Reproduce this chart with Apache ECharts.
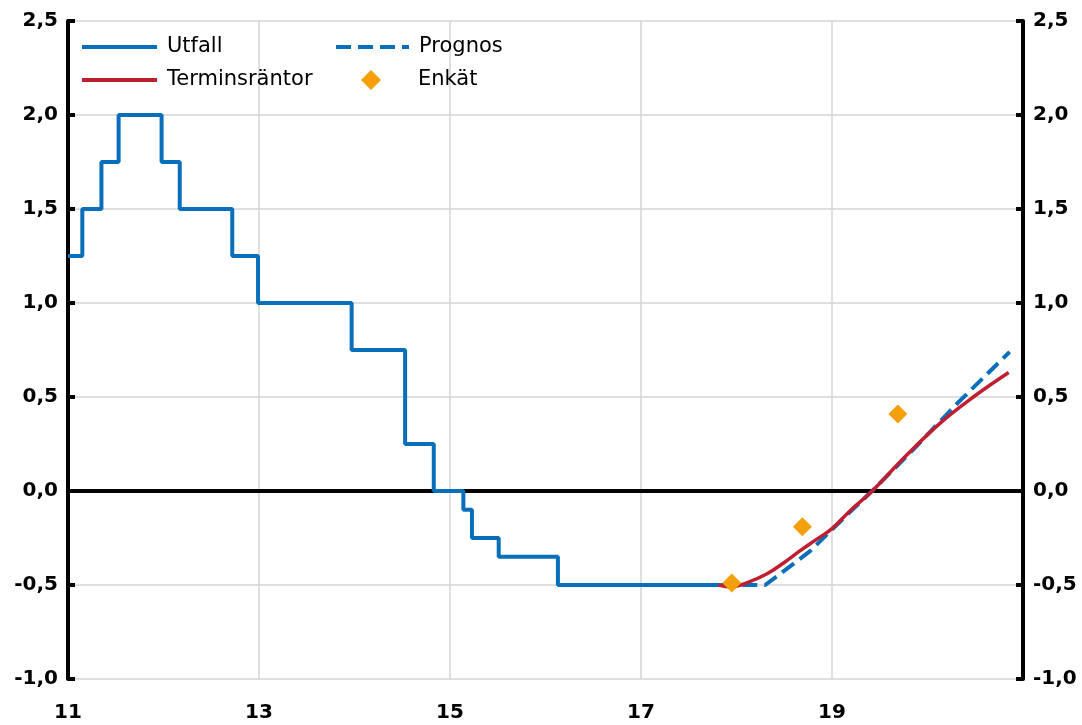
<!DOCTYPE html>
<html>
<head>
<meta charset="utf-8">
<script src="https://cdn.jsdelivr.net/npm/echarts@6/dist/echarts.min.js"></script>
<style>html,body{margin:0;padding:0;background:#fff}#c{width:1082px;height:725px}</style>
</head>
<body>
<div id="c"></div>
<script>
// Utfall (step changes: x = year since 2000, value)
var utfallX = [11.0, 11.15, 11.35, 11.53, 11.98, 12.17, 12.72, 12.99, 13.97, 14.53, 14.83, 15.14, 15.23, 15.51, 16.13, 17.83];
var utfallY = [1.25, 1.50, 1.75, 2.00, 1.75, 1.50, 1.25, 1.00, 0.75, 0.25, 0.00, -0.10, -0.25, -0.35, -0.50, -0.50];
// Prognos
var prognosX = [17.83, 18.30, 18.46, 18.77, 19.15, 19.42, 19.85, 20.30, 20.86];
var prognosY = [-0.50, -0.50, -0.44, -0.32, -0.13, 0.00, 0.22, 0.46, 0.74];
// Terminsräntor
var terminX = [17.81, 17.95, 18.10, 18.32, 18.50, 18.66, 18.83, 19.00, 19.19, 19.42, 19.78, 20.13, 20.48, 20.85];
var terminY = [-0.50, -0.51, -0.49, -0.44, -0.38, -0.32, -0.26, -0.20, -0.105, 0.00, 0.19, 0.36, 0.50, 0.63];
// Enkät
var enkatX = [17.95, 18.69, 19.69];
var enkatY = [-0.49, -0.19, 0.41];
// Axis settings
var xMin = 11, xMax = 21, xStep = 2;
var yMin = -1.0, yMax = 2.5, yStep = 0.5;

function zip(a, b) { return a.map(function (v, i) { return [v, b[i]]; }); }

var BLUE = '#0a6fbb', RED = '#bf1f30', ORANGE = '#f59f0c';
var fmt = function (v) { return v.toFixed(1).replace('.', ','); };

var yAxisBase = function (pos) {
  return {
    type: 'value', position: pos, min: yMin, max: yMax, interval: yStep,
    axisLine: { show: true, lineStyle: { color: '#000', width: 4 } },
    axisTick: { show: true, inside: true, length: 7, lineStyle: { color: '#000', width: 4 } },
    axisLabel: { formatter: fmt, color: '#000', fontFamily: 'DejaVu Sans', fontWeight: 'bold', fontSize: 20, margin: 10 },
    splitLine: { show: pos === 'left', lineStyle: { color: '#d4d4d4', width: 1.5 } }
  };
};

var legendText = { color: '#000', fontFamily: 'DejaVu Sans', fontSize: 21, lineHeight: 24, padding: [0, 0, 0, 5] };
var solidIcon = 'path://M0,0h75v4h-75z';
var dashIcon = 'path://M0,0h15v4h-15z M22,0h15v4h-15z M44,0h15v4h-15z M66,0h7v4h-7z';
var diamondIcon = 'path://M10,0L20,10L10,20L0,10Z';
function lg(name, left, top, icon, w, h, pad) {
  var ts = Object.assign({}, legendText, { padding: [0, 0, 0, pad] });
  return { data: [{ name: name, icon: icon }], left: left, top: top, itemWidth: w, itemHeight: h,
    symbolKeepAspect: false, selectedMode: false, textStyle: ts };
}

var chart = echarts.init(document.getElementById('c'), null, { renderer: 'canvas' });
chart.setOption({
  animation: false,
  backgroundColor: '#fff',
  grid: { left: 68, right: 59, top: 21, bottom: 46, containLabel: false, outerBoundsMode: 'none' },
  legend: [
    lg('Utfall', 77, 30, solidIcon, 75, 4, 5),
    lg('Terminsräntor', 77, 63, solidIcon, 75, 4, 5),
    lg('Prognos', 331, 30, dashIcon, 73, 4, 5),
    lg('Enkät', 356, 63, diamondIcon, 20, 20, 32)
  ],
  xAxis: {
    type: 'value', min: xMin, max: xMax, interval: xStep,
    axisLine: { show: false },
    axisTick: { show: false },
    axisLabel: { color: '#000', fontFamily: 'DejaVu Sans', fontWeight: 'bold', fontSize: 20, margin: 24, showMaxLabel: false },
    splitLine: { show: true, lineStyle: { color: '#d4d4d4', width: 1.5 } }
  },
  yAxis: [yAxisBase('left'), yAxisBase('right')],
  series: [
    {
      name: 'zero', type: 'line', data: [], z: 1, silent: true,
      markLine: { silent: true, z: 1, symbol: ['none', 'none'], label: { show: false }, animation: false,
        lineStyle: { color: '#000', width: 4, type: 'solid' }, data: [{ yAxis: 0 }] }
    },
    { name: 'Utfall', type: 'line', step: 'end', data: zip(utfallX, utfallY), showSymbol: false, symbol: 'none', z: 3,
      lineStyle: { color: BLUE, width: 4 }, itemStyle: { color: BLUE } },
    { name: 'Prognos', type: 'line', data: zip(prognosX, prognosY), showSymbol: false, symbol: 'none', z: 3,
      lineStyle: { color: BLUE, width: 4, type: [15, 7] }, itemStyle: { color: BLUE } },
    { name: 'Terminsräntor', type: 'line', smooth: 0.4, data: zip(terminX, terminY), showSymbol: false, symbol: 'none', z: 4,
      lineStyle: { color: RED, width: 3.5 }, itemStyle: { color: RED } },
    { name: 'Enkät', type: 'scatter', data: zip(enkatX, enkatY), symbol: 'diamond', symbolSize: 19, z: 5,
      itemStyle: { color: ORANGE, opacity: 1 } }
  ]
});
</script>
</body>
</html>
